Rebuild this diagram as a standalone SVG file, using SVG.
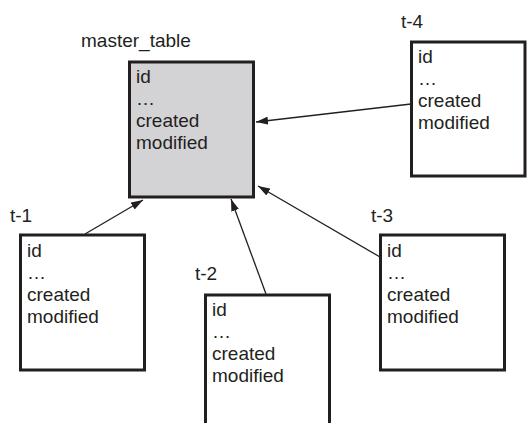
<svg xmlns="http://www.w3.org/2000/svg" width="527" height="423" viewBox="0 0 527 423">
<style>
.box{fill:#fff;stroke:#231f20;stroke-width:3}
.master{fill:#d3d3d5}
text{font-family:"Liberation Sans",Arial,sans-serif;font-size:19px;fill:#231f20}
.conn{stroke:#231f20;stroke-width:1.3;fill:none;marker-end:url(#arr)}
</style>
<defs>
<marker id="arr" viewBox="0 0 12 8" refX="12" refY="4" markerWidth="12" markerHeight="8" markerUnits="userSpaceOnUse" orient="auto">
<path d="M0,0 L12,4 L0,8 Z" fill="#231f20"/>
</marker>
</defs>
<rect width="527" height="423" fill="#fff"/>
<g id="connectors">
<line class="conn" x1="85" y1="234" x2="143" y2="200"/>
<line class="conn" x1="266" y1="294" x2="231" y2="199"/>
<line class="conn" x1="380" y1="257" x2="258" y2="186"/>
<line class="conn" x1="411" y1="104" x2="256" y2="122"/>
</g>
<g id="master_table">
<text x="81" y="47">master_table</text>
<rect class="box master" x="129.5" y="62" width="124" height="135"/>
<text><tspan x="136" y="83">id</tspan><tspan x="136" y="105">…</tspan><tspan x="136" y="127">created</tspan><tspan x="136" y="149">modified</tspan></text>
</g>
<g id="t-1">
<text x="10" y="222">t-1</text>
<rect class="box" x="20.5" y="235" width="124" height="135"/>
<text><tspan x="27" y="257">id</tspan><tspan x="27" y="279">…</tspan><tspan x="27" y="301">created</tspan><tspan x="27" y="323">modified</tspan></text>
</g>
<g id="t-2">
<text x="195" y="280">t-2</text>
<rect class="box" x="205.5" y="295" width="124" height="140"/>
<text><tspan x="212" y="316">id</tspan><tspan x="212" y="338">…</tspan><tspan x="212" y="360">created</tspan><tspan x="212" y="382">modified</tspan></text>
</g>
<g id="t-3">
<text x="371" y="222">t-3</text>
<rect class="box" x="380.5" y="235" width="124" height="135"/>
<text><tspan x="387" y="257">id</tspan><tspan x="387" y="279">…</tspan><tspan x="387" y="301">created</tspan><tspan x="387" y="323">modified</tspan></text>
</g>
<g id="t-4">
<text x="401" y="28">t-4</text>
<rect class="box" x="411.5" y="42" width="113.5" height="134"/>
<text><tspan x="418" y="63">id</tspan><tspan x="418" y="85">…</tspan><tspan x="418" y="107">created</tspan><tspan x="418" y="129">modified</tspan></text>
</g>
</svg>
